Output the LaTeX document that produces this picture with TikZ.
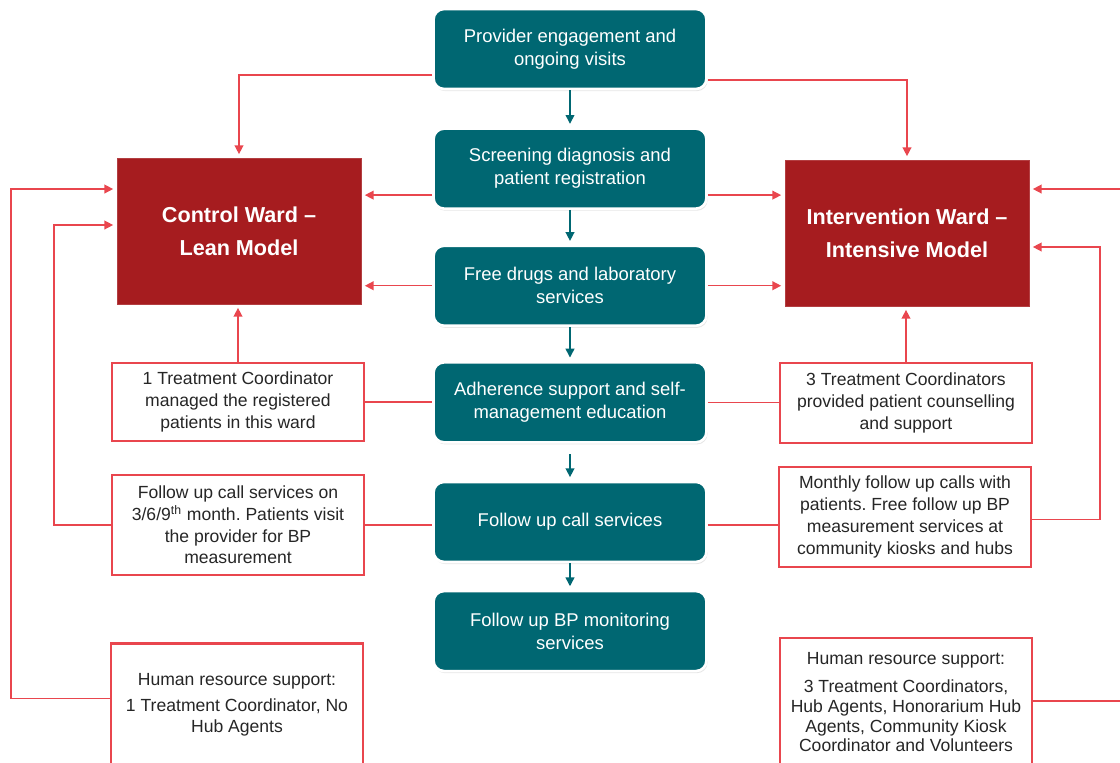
\documentclass[tikz,border=0pt]{standalone}
\usepackage{fontspec}
\setmainfont{Liberation Sans}
\usepackage{tikz}
\usetikzlibrary{positioning}
\usetikzlibrary{arrows.meta}
\usetikzlibrary{shadows}
\frenchspacing

\definecolor{wardred}{RGB}{166,28,31}
\definecolor{stepteal}{RGB}{0,103,114}
\definecolor{linered}{RGB}{233,70,78}
\definecolor{notetext}{RGB}{38,38,38}

\begin{document}
\begin{tikzpicture}[
                x=0.02cm, y=-0.02cm,
                tealnode/.style={rectangle, rounded corners=6pt, draw=white, line width=1.5pt, fill=stepteal, text=white, minimum width=5.46cm, minimum height=1.6cm, align=center, font=\fontsize{10.5}{13}\selectfont, drop shadow={opacity=0.2, shadow xshift=0.6pt, shadow yshift=-1.2pt}},
                wardnode/.style={rectangle, draw=wardred!85!white, fill=wardred, text=white, minimum width=4.88cm, minimum height=2.92cm, align=center, font=\fontsize{12.3}{18.8}\selectfont\bfseries},
                notenode/.style={rectangle, draw=linered, line width=1.2pt, fill=white, text=notetext, minimum width=5.04cm, align=center, font=\fontsize{10}{12.4}\selectfont},
                redarrow/.style={draw=linered, line width=0.8pt, -{Triangle[length=5pt,width=5pt]}, shorten >=2pt},
                redline/.style={draw=linered, line width=0.7pt},
                tealarrow/.style={draw=stepteal, line width=0.8pt, -{Triangle[length=5pt,width=5pt]}, shorten >=2pt},
            ]
            \useasboundingbox (0,0) rectangle (1120,762);

            % Nodes
            \node[tealnode]        (provider)    at (570,49)                  {Provider engagement and\\ongoing visits};
            \node[tealnode]        (screening)   [below=0.74cm of provider]   {Screening diagnosis and\\patient registration};
            \node[tealnode]        (drugs)       [below=0.69cm of screening]  {Free drugs and laboratory\\services};
            \node[tealnode]        (adherence)   [below=0.68cm of drugs]      {Adherence support and self-\\management education};
            \node[tealnode]        (followup)    [below=0.74cm of adherence]  {Follow up call services};
            \node[tealnode]        (monitoring)  [below=0.53cm of followup]   {Follow up BP monitoring\\services};

            \node[wardnode]        (control)      at (239,231)  {Control Ward –\\Lean Model};
            \node[wardnode]        (intervention) at (907,233)  {Intervention Ward –\\Intensive Model};

            \node[notenode, minimum height=1.56cm]  (coordleft)   at (238,402)  {1 Treatment Coordinator\\managed the registered\\patients in this ward};
            \node[notenode, minimum height=1.6cm]   (coordright)  at (906,403)  {3 Treatment Coordinators\\provided patient counselling\\and support};
            \node[notenode, minimum height=2cm]     (callsleft)   at (238,525)  {Follow up call services on\\3/6/9\textsuperscript{th} month. Patients visit\\the provider for BP\\measurement};
            \node[notenode, minimum height=2cm]     (callsright)  at (905,517)  {Monthly follow up calls with\\patients. Free follow up BP\\measurement services at\\community kiosks and hubs};
            \node[notenode, minimum height=2.46cm, font=\fontsize{10}{12}\selectfont]  (staffleft)   at (237,705)  {Human resource support:\\[3pt]1 Treatment Coordinator, No\\Hub Agents};
            \node[notenode, minimum height=2.56cm, font=\fontsize{10}{11.2}\selectfont]  (staffright)  at (906,702)  {Human resource support:\\[5pt]3 Treatment Coordinators,\\Hub Agents, Honorarium Hub\\Agents, Community Kiosk\\Coordinator and Volunteers};

            %Lines
            \draw[tealarrow] (provider) -- (screening);
            \draw[tealarrow] (screening) -- (drugs);
            \draw[tealarrow] (drugs) -- (adherence);
            \draw[tealarrow, shorten <=6pt] (adherence) -- (followup);
            \draw[tealarrow] (followup) -- (monitoring);

            \draw[redarrow] ([yshift=-0.52cm]provider.west) -| (control.north);
            \draw[redarrow] ([yshift=-0.62cm]provider.east) -| (intervention.north);

            \coordinate (screenL) at ([yshift=-0.53cm]screening.west);
            \coordinate (screenR) at ([yshift=-0.53cm]screening.east);
            \draw[redarrow] (screenL) -- (screenL -| control.east);
            \draw[redarrow] (screenR) -- (screenR -| intervention.west);
            \draw[redarrow] (drugs.west) -- (drugs.west -| control.east);
            \draw[redarrow] (drugs.east) -- (drugs.east -| intervention.west);

            \draw[redarrow] (coordleft.north) -- (coordleft.north |- control.south);
            \draw[redline] (coordleft.east) -- (coordleft.east -| adherence.west);
            \draw[redarrow] (coordright.north) -- (coordright.north |- intervention.south);
            \draw[redline] (adherence.east) -- (adherence.east -| coordright.west);

            \draw[redline] (callsleft.east) -- (callsleft.east -| followup.west);
            \draw[redarrow] (callsleft.west) -- ++(-57,0) |- ([yshift=0.12cm]control.west);
            \coordinate (callsRin) at ([yshift=-0.16cm]callsright.west);
            \draw[redline] (callsRin -| followup.east) -- (callsRin);
            \draw[redarrow] ([yshift=-0.05cm]callsright.east) -- ++(68,0) |- ([yshift=-0.28cm]intervention.east);

            \draw[redarrow] ([yshift=0.13cm]staffleft.west) -- ++(-99,0) |- ([yshift=0.84cm]control.west);
            \draw[redarrow] ([yshift=0.02cm]staffright.east) -- ++(100,0) |- ([yshift=0.88cm]intervention.east);
        \end{tikzpicture}
\end{document}
